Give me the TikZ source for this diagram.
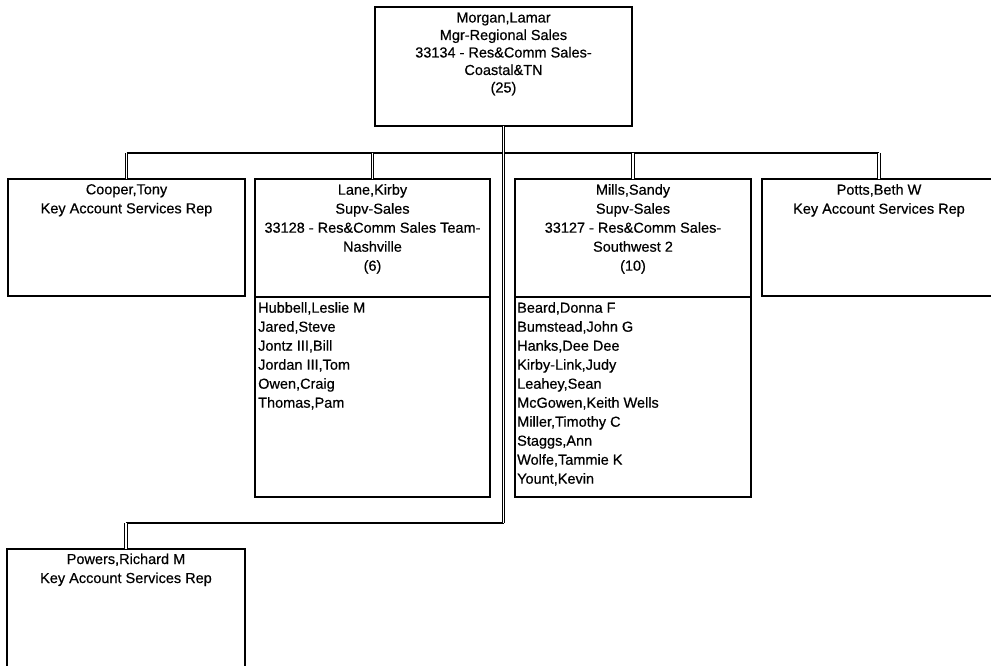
\documentclass[tikz,border=0pt]{standalone}
\usepackage{fontspec}
\setmainfont{Liberation Sans}[FakeBold=0.5]
\begin{document}
\begin{tikzpicture}[x=1pt,y=-1pt,
 box/.style={draw=black, line width=1.6pt, fill=white, rectangle, inner sep=0pt, outer sep=0pt},
 hdr/.style={anchor=north, inner sep=0pt, align=center, font=\fontsize{14.5}{19}\selectfont},
 tophdr/.style={anchor=north, inner sep=0pt, align=center, font=\fontsize{14.5}{17.5}\selectfont},
 lst/.style={anchor=north west, inner sep=0pt, align=left, font=\fontsize{14.5}{19}\selectfont},
 vcon/.style={draw=black, double=white, double distance=1.8pt, line width=0.8pt},
 hcon/.style={draw=black, line width=1.6pt}]
\useasboundingbox (0,0) rectangle (991,666);
\clip (0,0) rectangle (991,666);
\fill[white] (0,0) rectangle (991,666);

% boxes
\node[box, minimum width=257pt, minimum height=119pt] (morgan) at (503.5,66.5) {};
\node[box, minimum width=237pt, minimum height=117pt] (cooper) at (126.5,237.5) {};
\node[box, minimum width=235pt, minimum height=118pt] (lane) at (372.5,238) {};
\node[box, minimum width=235pt, minimum height=200pt] (lanelist) at (372.5,397) {};
\node[box, minimum width=236pt, minimum height=118pt] (mills) at (633,238) {};
\node[box, minimum width=236pt, minimum height=200pt] (millslist) at (633,397) {};
\node[box, minimum width=234pt, minimum height=117pt] (potts) at (879,237.5) {};
\node[box, minimum width=238pt, minimum height=119pt] (powers) at (126,608.5) {};

% texts
\node[tophdr] (morgan-t) at (503.5,12.3) {Morgan,Lamar\\Mgr-Regional Sales\\33134 - Res\&Comm Sales-\\Coastal\&TN\\(25)};
\node[hdr] (cooper-t) at (126.5,184) {Cooper,Tony\\Key Account Services Rep};
\node[hdr] (lane-t) at (372.5,184) {Lane,Kirby\\Supv-Sales\\33128 - Res\&Comm Sales Team-\\Nashville\\(6)};
\node[hdr] (mills-t) at (633,184) {Mills,Sandy\\Supv-Sales\\33127 - Res\&Comm Sales-\\Southwest 2\\(10)};
\node[hdr] (potts-t) at (879,184) {Potts,Beth W\\Key Account Services Rep};
\node[hdr] (powers-t) at (126,553.3) {Powers,Richard M\\Key Account Services Rep};
\node[lst] (lane-l) at (258,302) {Hubbell,Leslie M\\Jared,Steve\\Jontz III,Bill\\Jordan III,Tom\\Owen,Craig\\Thomas,Pam};
\node[lst] (mills-l) at (517,302) {Beard,Donna F\\Bumstead,John G\\Hanks,Dee Dee\\Kirby-Link,Judy\\Leahey,Sean\\McGowen,Keith Wells\\Miller,Timothy C\\Staggs,Ann\\Wolfe,Tammie K\\Yount,Kevin};

% connectors
\coordinate (bar) at (0,153);
\coordinate (pbar) at (0,523);
\draw[hcon] (cooper.north |- bar) -- (potts.north |- bar);
\draw[hcon] (powers.north |- pbar) -- (morgan.south |- pbar);
\draw[vcon] (morgan.south) -- (morgan.south |- pbar);
\draw[vcon] (cooper.north |- bar) -- (cooper.north);
\draw[vcon] (lane.north |- bar) -- (lane.north);
\draw[vcon] (mills.north |- bar) -- (mills.north);
\draw[vcon] (potts.north |- bar) -- (potts.north);
\draw[vcon] (powers.north |- pbar) -- (powers.north);
\end{tikzpicture}
\end{document}
